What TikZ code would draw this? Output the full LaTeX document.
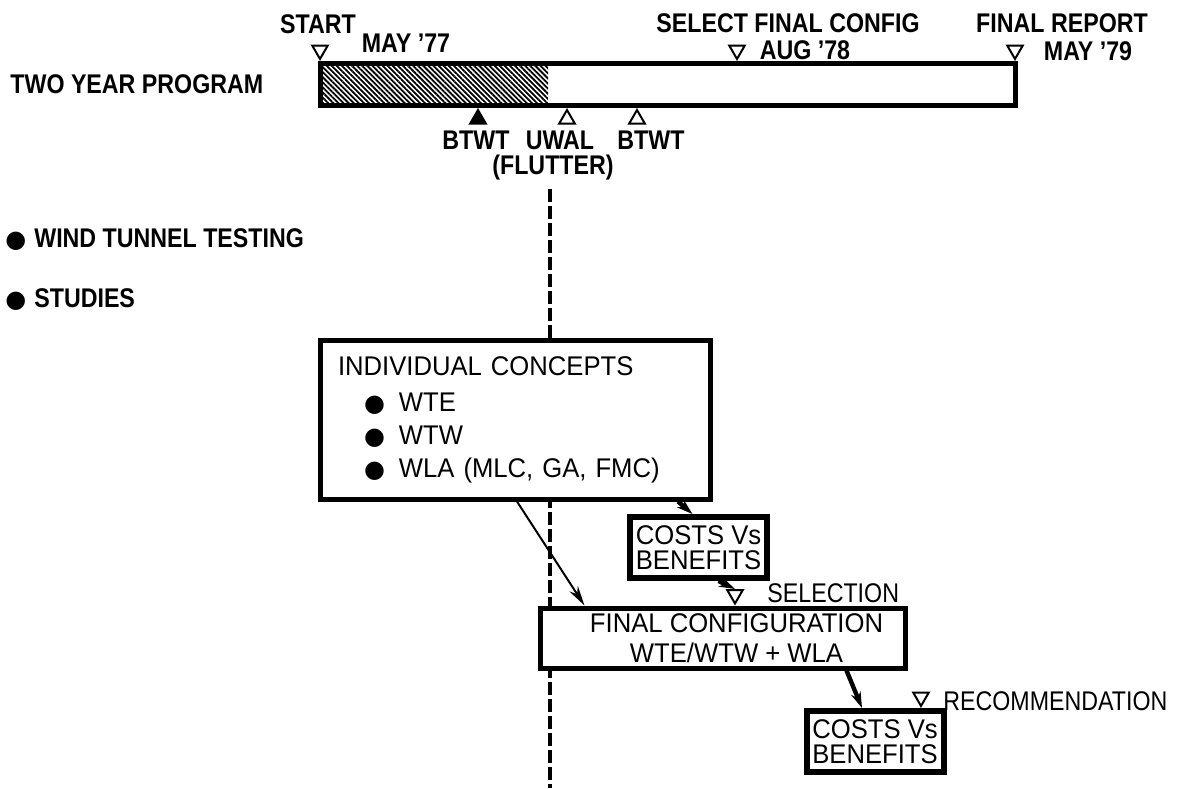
\documentclass[tikz,border=0pt]{standalone}
\usepackage{fontspec}
\setmainfont{Liberation Sans}[FakeStretch=0.86]
\newfontfamily\boxfont{Liberation Sans}[FakeStretch=0.95]
\newfontfamily\dotfont{DejaVu Sans}
\newcommand{\bigdot}{{\dotfont\fontsize{12}{12}\selectfont●}}
\usetikzlibrary{patterns.meta,shapes.geometric,arrows.meta}
\begin{document}
\begin{tikzpicture}[x=0.5pt, y=-0.5pt,
  every node/.style={font=\fontsize{13.5}{15}\selectfont, inner sep=0pt},
  lbl/.style={font=\fontsize{13.5}{15}\selectfont\bfseries},
  box/.style={draw, line width=2.5pt, fill=white, inner sep=2pt, font=\boxfont\fontsize{13.5}{15}\selectfont},
  costbox/.style={box, line width=3pt, align=center, minimum width=68.5pt, minimum height=30.5pt, font=\boxfont\fontsize{13.5}{12.5}\selectfont},
  downtri/.style={draw, line width=1pt, fill=white, regular polygon, regular polygon sides=3, shape border rotate=180, minimum size=9pt, inner sep=0pt},
  uptri/.style={draw, line width=1pt, fill=white, regular polygon, regular polygon sides=3, minimum size=9pt, inner sep=0pt},
  heavy/.style={line width=2.2pt, -{Stealth[length=8pt, width=5pt]}},
  light/.style={line width=1pt, -{Stealth[length=10pt, width=5pt]}},
  flutterline/.style={line width=2pt, dash pattern=on 6.5pt off 2pt}]
\useasboundingbox (0,0) rectangle (1184,788);
% left labels
\node[lbl, anchor=west] (program) at (10,84) {TWO YEAR PROGRAM};
\node[lbl, anchor=west] (tunnel) at (5,240) {\bigdot\hspace{4pt}WIND TUNNEL TESTING};
\node[lbl, anchor=west] (studies) at (5,300) {\bigdot\hspace{4pt}STUDIES};
% time bar
\fill [pattern={Lines[angle=-45, distance=1.8pt, line width=0.9pt]}] (320,63) rectangle (548,105);
\draw [line width=2.5pt] (320,63) rectangle (1015,105);
\node[downtri, anchor=corner 1] (startmark) at (320,61) {};
\node[downtri, anchor=corner 1] (selectmark) at (737,61) {};
\node[downtri, anchor=corner 1] (reportmark) at (1015,61) {};
\node[lbl] (start) at (318,24) {START};
\node[lbl] (may77) at (406,43) {MAY '77};
\node[lbl] (select) at (788,23) {SELECT FINAL CONFIG};
\node[lbl] (aug78) at (805,50) {AUG '78};
\node[lbl] (report) at (1062,23) {FINAL REPORT};
\node[lbl] (may79) at (1088,51) {MAY '79};
\node[uptri, fill=black, anchor=corner 1] (btwtmark) at (478,108) {};
\node[uptri, anchor=corner 1] (uwalmark) at (567,108) {};
\node[uptri, anchor=corner 1] (btwtmarkb) at (637,108) {};
\node[lbl] (btwt) at (476,140) {BTWT};
\node[lbl] (uwal) at (560,140) {UWAL};
\node[lbl] (btwtb) at (651,140) {BTWT};
\node[lbl] (flutter) at (553,168) {(FLUTTER)};
% flutter line
\coordinate (tunnelend) at (550,788);
\draw [flutterline] ([yshift=-4pt]flutter.south -| tunnelend) -- (tunnelend);
% studies
\node[box, minimum width=195pt, minimum height=79.5pt, text width=177pt, align=left] (concepts) at (515,419.5)
  {INDIVIDUAL CONCEPTS\\[3pt]
   \hspace*{13pt}\bigdot\hspace{7pt}WTE\\[1.5pt]
   \hspace*{13pt}\bigdot\hspace{7pt}WTW\\[1.5pt]
   \hspace*{13pt}\bigdot\hspace{7pt}WLA (MLC, GA, FMC)};
\node[costbox] (costs) at (698.5,547.5) {COSTS Vs\\BENEFITS};
\node[box, align=center, minimum width=182.5pt, minimum height=30pt] (final) at (722.5,638)
  {\hspace*{14pt}FINAL CONFIGURATION\\\hspace*{14pt}WTE/WTW + WLA};
\node[costbox] (costsb) at (875,741.5) {COSTS Vs\\BENEFITS};
\node[downtri, anchor=corner 1] (selmark) at ([xshift=6.25pt]final.north) {};
\node[anchor=west] (selection) at (767,593) {SELECTION};
\node[downtri, anchor=corner 1] (recmark) at ([xshift=23pt]costsb.north) {};
\node[anchor=west] (recommendation) at (943,701) {RECOMMENDATION};
% connectors
\draw [heavy] ([xshift=81.5pt]concepts.south) -- ([xshift=-3pt]costs.north);
\draw [heavy] ([xshift=10pt]costs.south) -- (selmark.north);
\draw [heavy] ([xshift=62pt]final.south) -- ([xshift=-6.5pt]costsb.north);
\draw [light] ([xshift=1pt]concepts.south) -- ([xshift=-69pt]final.north);
\end{tikzpicture}
\end{document}
